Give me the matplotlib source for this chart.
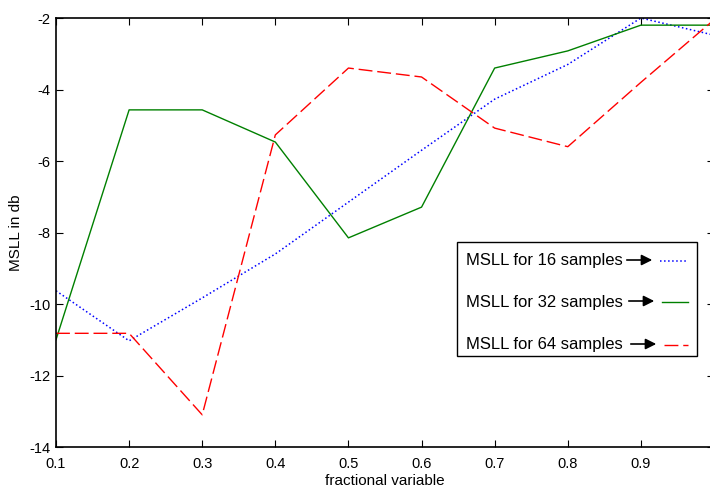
import matplotlib.pyplot as plt
from matplotlib.patches import Rectangle
from matplotlib.lines import Line2D

plt.rcParams['font.family'] = ['Liberation Sans', 'DejaVu Sans']
plt.rcParams['axes.unicode_minus'] = False

# data
frac = [0.1, 0.2, 0.3, 0.4, 0.5, 0.6, 0.7, 0.8, 0.9, 1.0]
msll_16 = [-9.63, -11.03, -9.83, -8.6, -7.15, -5.7, -4.27, -3.3, -2.0, -2.48]
msll_32 = [-11.0, -4.57, -4.57, -5.47, -8.15, -7.29, -3.4, -2.92, -2.2, -2.2]
msll_64 = [-10.82, -10.82, -13.1, -5.27, -3.4, -3.65, -5.08, -5.6, -3.8, -2.05]
labels = ['MSLL for 16 samples', 'MSLL for 32 samples', 'MSLL for 64 samples']
xticks = [0.1, 0.2, 0.3, 0.4, 0.5, 0.6, 0.7, 0.8, 0.9]
yticks = [-14, -12, -10, -8, -6, -4, -2]

fig = plt.figure(figsize=(7.1, 4.9), dpi=100)
W, H = 710, 490
ax = fig.add_axes([56 / W, (H - 447) / H, (714 - 56) / W, (447 - 18) / H])

styles = [
    dict(color='blue', linestyle=':', lw=1.1),
    dict(color='green', linestyle='-', lw=1.0),
    dict(color='red', linestyle=(0, (10, 3.5)), lw=1.0),
]
for ys, st in zip([msll_16, msll_32, msll_64], styles):
    ax.plot(frac, ys, **st)

ax.set_xlim(0.1, 1.0)
ax.set_ylim(-14, -2)
ax.set_xticks(xticks)
ax.set_yticks(yticks)
ax.set_xticklabels([str(t) for t in xticks])
ax.tick_params(direction='in', top=True, right=True, length=5, labelsize=10.5)
ax.tick_params(axis='x', pad=7)
ax.tick_params(axis='y', pad=4)
for s in ax.spines.values():
    s.set_linewidth(1.2)
ax.set_xlabel('fractional variable', fontsize=11)
ax.set_ylabel('MSLL in db', fontsize=11)
ax.xaxis.set_label_coords(0.5, -0.063)
ax.yaxis.set_label_coords(-0.05, 0.5)

# hand-made legend box with arrows, like the original
def px(x, y):
    # figure pixel -> axes fraction
    return ax.transAxes.inverted().transform(fig.transFigure.transform((x / W, 1 - y / H)))

x0, y0 = px(457, 356)
x1, y1 = px(697, 242)
ax.add_patch(Rectangle((x0, y0), x1 - x0, y1 - y0, transform=ax.transAxes,
                       fill=True, facecolor='white', edgecolor='black', lw=1, zorder=5))
rows = [261, 302, 345]
text_end = [623, 625, 627]
for lab, yr, te, st in zip(labels, rows, text_end, styles):
    tx, ty = px(466, yr)
    ax.text(tx, ty, lab, transform=ax.transAxes, fontsize=12, va='center', ha='left', zorder=6)
    a0 = px(te + 1, yr - 1)
    a1 = px(te + 32, yr - 1)
    ax.annotate('', xy=a1, xytext=a0, xycoords='axes fraction', textcoords='axes fraction',
                arrowprops=dict(arrowstyle='-|>', color='black', lw=1.2, mutation_scale=16), zorder=6)
    l0 = px(te + 37, yr)
    l1 = px(688, yr)
    ax.add_line(Line2D([l0[0], l1[0]], [l0[1], l1[1]], transform=ax.transAxes, zorder=6, **st))

fig.savefig('out.png', dpi=100)
